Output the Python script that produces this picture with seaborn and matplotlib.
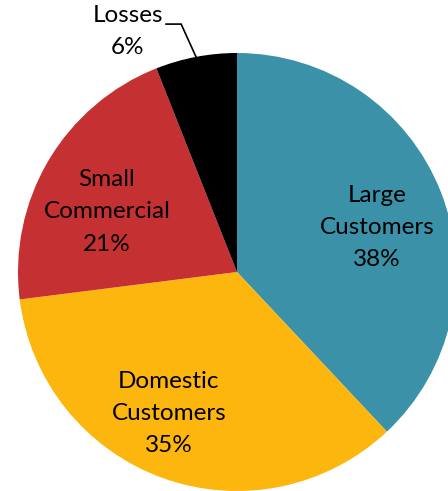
import matplotlib
matplotlib.use("Agg")
import matplotlib.pyplot as plt
import seaborn as sns

categories = ["Large\nCustomers", "Domestic\nCustomers", "Small\nCommercial", "Losses"]
shares = [38, 35, 21, 6]
palette = ["#3A91A8", "#FDB60D", "#C53033", "#000000"]

sns.set_theme(style="white")
plt.rcParams['font.family'] = ['Lato', 'DejaVu Sans']

W, H = 448, 491
fig = plt.figure(figsize=(W / 100, H / 100), dpi=100)
cx, cy, R = 237, 272, 219
ax = fig.add_axes([(cx - R) / W, (H - cy - R) / H, 2 * R / W, 2 * R / H])

wedges, _ = ax.pie(shares, colors=palette, startangle=90, counterclock=False,
                   radius=1, wedgeprops=dict(linewidth=0))
ax.set_xlim(-1, 1)
ax.set_ylim(-1, 1)
ax.set_aspect("auto")
ax.axis("off")

label_pos = [(0.639, 0.205), (-0.311, -0.648), (-0.594, 0.274), (-0.498, 1.098)]
for cat, val, (x, y) in zip(categories, shares, label_pos):
    ax.text(x, y, f"{cat}\n{val}%", ha="center", va="center", fontsize=17.5,
            color="black", linespacing=1.65, clip_on=False)

ax.plot([-0.325, -0.255, -0.187], [1.132, 1.132, 0.982], color="black",
        linewidth=1.2, clip_on=False, solid_joinstyle="miter")

fig.savefig("out.png", dpi=100)
